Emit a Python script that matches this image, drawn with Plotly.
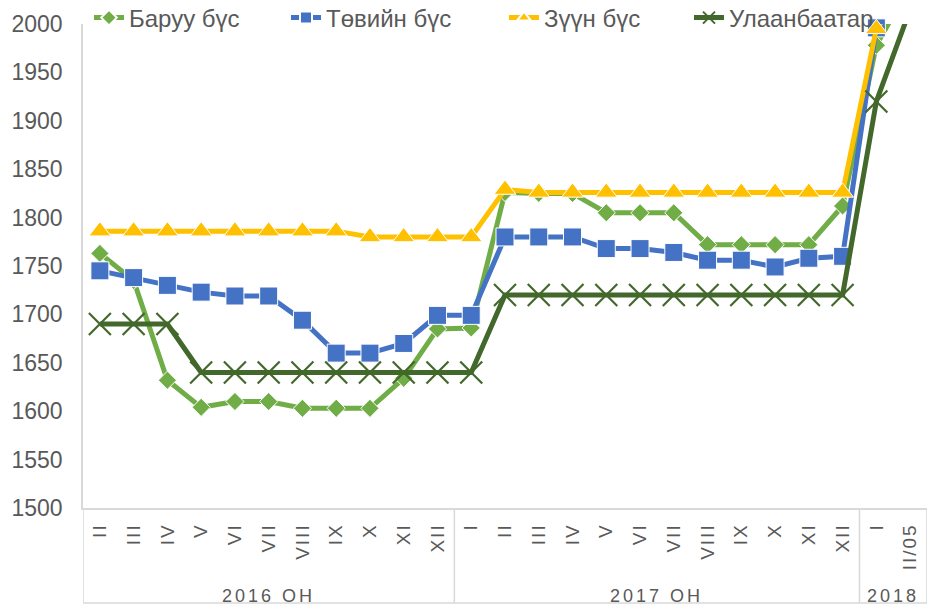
import plotly.graph_objects as go

groups = ["2016 ОН", "2017 ОН", "2018"]
group_sizes = [11, 12, 2]
months = ["II", "III", "IV", "V", "VI", "VII", "VIII", "IX", "X", "XI", "XII",
          "I", "II", "III", "IV", "V", "VI", "VII", "VIII", "IX", "X", "XI", "XII",
          "I", "II/05"]

baruu = [1763, 1735, 1632, 1604, 1610, 1610, 1603, 1603, 1603, 1634, 1685,
         1686, 1826, 1825, 1825, 1805, 1805, 1805, 1772, 1772, 1772, 1772, 1812,
         1978, 2040]
tov = [1745, 1738, 1730, 1723, 1719, 1719, 1694, 1660, 1660, 1670, 1699,
       1699, 1780, 1780, 1780, 1768, 1768, 1764, 1756, 1756, 1749, 1758, 1760,
       1996, 2040]
zuun = [1786, 1786, 1786, 1786, 1786, 1786, 1786, 1786, 1780, 1780, 1780,
        1780, 1829, 1826, 1826, 1826, 1826, 1826, 1826, 1826, 1826, 1826, 1826,
        1995, 2040]
ub = [1690, 1690, 1690, 1640, 1640, 1640, 1640, 1640, 1640, 1640, 1640,
      1640, 1720, 1720, 1720, 1720, 1720, 1720, 1720, 1720, 1720, 1720, 1720,
      1920, 2015]

series = [
    ("Баруу бүс", baruu, "#70AD47", "diamond", 14),
    ("Төвийн бүс", tov, "#4472C4", "square", 18),
    ("Зүүн бүс", zuun, "#FFC000", "triangle-up", 19),
    ("Улаанбаатар", ub, "#43682B", "x-thin", 22),
]
legend_x = [0.0071, 0.2405, 0.4988, 0.718]

FONT = "Liberation Sans"
GRID = "#D9D9D9"
TXT = "#595959"
xs = list(range(len(months)))

W, H = 945, 610
ML, MR, MT, MB = 83, 18, 24, 102
plot_h = H - MT - MB

fig = go.Figure()
legends = {}
for i, (name, vals, color, sym, sz) in enumerate(series):
    sizes = [sz if v <= 2000 else 0 for v in vals]
    marker = dict(symbol=sym, size=sizes, color=color, opacity=1)
    if sym == "x-thin":
        marker["line"] = dict(color=color, width=2.2)
    lg = "legend" if i == 0 else f"legend{i + 1}"
    fig.add_trace(go.Scatter(
        x=xs, y=vals, name=name, mode="lines+markers", legend=lg,
        line=dict(color=color, width=5), marker=marker, cliponaxis=False,
        showlegend=True,
    ))
    legends[lg] = dict(orientation="h", x=legend_x[i], xanchor="left",
                       y=1 + (MT - 18) / plot_h, yanchor="middle",
                       font=dict(size=24, family=FONT, color=TXT),
                       bgcolor="rgba(0,0,0,0)", itemsizing="constant")

# group labels and dividers below the axis
box_bottom = -(603 - 508) / plot_h
label_y = -(596 - 508) / plot_h
start = -0.5
bounds = [start]
for g, n in zip(groups, group_sizes):
    end = start + n
    fig.add_annotation(x=(start + end) / 2, y=label_y, xref="x", yref="paper",
                       text=f'<span style="letter-spacing:3px">{g}</span>',
                       showarrow=False, yanchor="middle",
                       font=dict(size=18, family=FONT, color=TXT))
    bounds.append(end)
    start = end
for b in bounds:
    fig.add_shape(type="line", xref="x", yref="paper", x0=b, x1=b, y0=0, y1=box_bottom,
                  line=dict(color=GRID, width=1.5))
fig.add_shape(type="line", xref="x", yref="paper", x0=bounds[0], x1=bounds[-1],
              y0=box_bottom, y1=box_bottom, line=dict(color=GRID, width=1.5))

ticktext = [f'<span style="letter-spacing:2px">{m}</span>' for m in months]

fig.update_layout(
    width=W, height=H, showlegend=True,
    margin=dict(l=ML, r=MR, t=MT, b=MB, autoexpand=False),
    paper_bgcolor="white", plot_bgcolor="white",
    font=dict(family=FONT, color=TXT),
    xaxis=dict(range=[-0.5, len(months) - 0.5], tickvals=xs, ticktext=ticktext,
               showline=True, linecolor=GRID, linewidth=1.5, showgrid=False,
               zeroline=False, tickangle=-90, automargin=False,
               tickfont=dict(size=19, color=TXT), ticklabelstandoff=6),
    yaxis=dict(range=[1500, 2000], dtick=50, showgrid=False, showline=True,
               linecolor=GRID, linewidth=1.5, zeroline=False, automargin=False,
               tickfont=dict(size=23, color=TXT), ticklabelstandoff=14),
    **legends,
)

fig.write_html("out.html", config={"displayModeBar": False},
               post_script="document.body.style.margin='0';")
